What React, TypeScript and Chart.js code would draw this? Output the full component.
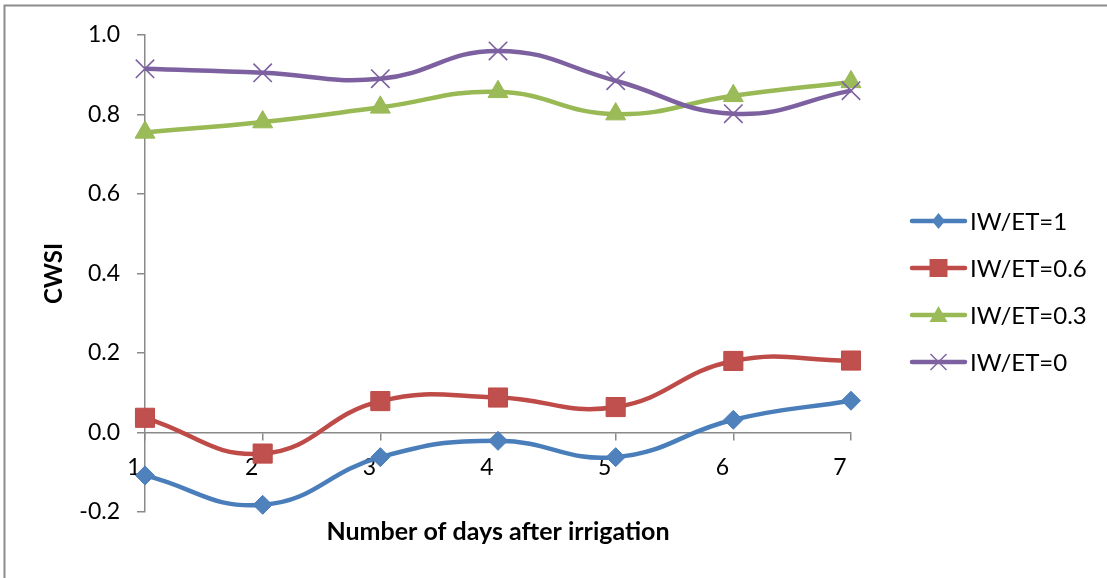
import React, { useEffect, useRef } from 'react';
import { Chart, registerables } from 'chart.js';

Chart.register(...registerables);

// ---- Data ----
const days = ['1', '2', '3', '4', '5', '6', '7'];
const iwEt1 = [-0.108, -0.182, -0.062, -0.021, -0.062, 0.032, 0.080];
const iwEt06 = [0.037, -0.053, 0.079, 0.088, 0.064, 0.180, 0.181];
const iwEt03 = [0.755, 0.781, 0.818, 0.857, 0.801, 0.847, 0.882];
const iwEt0 = [0.915, 0.905, 0.890, 0.960, 0.885, 0.802, 0.860];
const seriesNames = ['IW/ET=1', 'IW/ET=0.6', 'IW/ET=0.3', 'IW/ET=0'];
const yMin = -0.2;
const yMax = 1.0;
const yStep = 0.2;
const xTitle = 'Number of days after irrigation';
const yTitle = 'CWSI';

// ---- Styles ----
const FONT = 'Lato, "Open Sans", sans-serif';
const AXIS_GRAY = '#898989';
const colors = ['#4A7EBB', '#BE4B48', '#98B954', '#7D60A0'];
const fills = ['#4F81BD', '#C0504D', '#9BBB59', '#8064A2'];
const markerStyles = ['rectRot', 'rect', 'triangle', 'crossRot'];
const markerRadius = [9.5, 13.5, 11.5, 13];

function drawLegendMarker(ctx: CanvasRenderingContext2D, style: string, x: number, y: number, color: string) {
  ctx.save();
  ctx.fillStyle = color;
  ctx.strokeStyle = color;
  ctx.beginPath();
  if (style === 'rectRot') {
    ctx.moveTo(x, y - 8);
    ctx.lineTo(x + 6.5, y);
    ctx.lineTo(x, y + 8);
    ctx.lineTo(x - 6.5, y);
    ctx.closePath();
    ctx.fill();
  } else if (style === 'rect') {
    ctx.rect(x - 9, y - 9, 18, 18);
    ctx.fill();
  } else if (style === 'triangle') {
    ctx.moveTo(x, y - 9);
    ctx.lineTo(x + 9, y + 7);
    ctx.lineTo(x - 9, y + 7);
    ctx.closePath();
    ctx.fill();
  } else {
    ctx.lineWidth = 1.5;
    ctx.moveTo(x - 8, y - 8);
    ctx.lineTo(x + 8, y + 8);
    ctx.moveTo(x + 8, y - 8);
    ctx.lineTo(x - 8, y + 8);
    ctx.stroke();
  }
  ctx.restore();
}

const frameAndLegend = {
  id: 'frameAndLegend',
  beforeDraw(chart: any) {
    const ctx = chart.ctx as CanvasRenderingContext2D;
    ctx.save();
    ctx.fillStyle = '#ffffff';
    ctx.fillRect(0, 0, chart.width, chart.height);
    ctx.strokeStyle = '#8c8c8c';
    ctx.lineWidth = 2;
    ctx.strokeRect(4.5, 5.5, chart.width + 20, chart.height + 20);
    ctx.restore();
  },
  afterDraw(chart: any) {
    const ctx = chart.ctx as CanvasRenderingContext2D;
    const area = chart.chartArea;
    const lineX0 = area.right + 61;
    const lineX1 = lineX0 + 53;
    const textX = lineX1 + 5;
    chart.data.datasets.forEach((ds: any, i: number) => {
      const y = 221 + i * 47;
      ctx.save();
      ctx.strokeStyle = colors[i];
      ctx.lineWidth = 4.5;
      ctx.lineCap = 'round';
      ctx.beginPath();
      ctx.moveTo(lineX0, y);
      ctx.lineTo(lineX1, y);
      ctx.stroke();
      ctx.restore();
      drawLegendMarker(ctx, markerStyles[i], (lineX0 + lineX1) / 2, y, fills[i]);
      ctx.save();
      ctx.fillStyle = '#000000';
      ctx.font = `normal 24px ${FONT}`;
      ctx.textBaseline = 'middle';
      ctx.textAlign = 'left';
      ctx.fillText(ds.label, textX, y + 1);
      ctx.restore();
    });
  },
};

export default function App() {
  const canvasRef = useRef<HTMLCanvasElement | null>(null);

  useEffect(() => {
    if (!canvasRef.current) return;
    const seriesValues = [iwEt1, iwEt06, iwEt03, iwEt0];
    const chart = new Chart(canvasRef.current, {
      type: 'line',
      data: {
        labels: days,
        datasets: seriesValues.map((vals, i) => ({
          label: seriesNames[i],
          data: vals,
          borderColor: colors[i],
          backgroundColor: fills[i],
          borderWidth: 4.5,
          tension: 0.45,
          fill: false,
          clip: false as any,
          order: 3 - i,
          pointStyle: markerStyles[i] as any,
          pointRadius: markerRadius[i],
          pointBackgroundColor: fills[i],
          pointBorderColor: colors[i],
          pointBorderWidth: i === 3 ? 1.6 : 1,
        })),
      },
      options: {
        responsive: false,
        animation: false,
        events: [],
        layout: { padding: { left: 0, top: 35, right: 256, bottom: 31 } },
        plugins: {
          legend: { display: false },
          tooltip: { enabled: false },
          title: {
            display: true,
            text: xTitle,
            position: 'bottom',
            fullSize: false,
            color: '#000000',
            font: { family: FONT, size: 25, weight: 'bold' },
            padding: { top: 5, bottom: 0 },
          },
        },
        scales: {
          x: {
            type: 'category',
            position: { y: 0 } as any,
            offset: false,
            afterFit: (scale: any) => {
              scale.height = 0;
            },
            grid: {
              display: true,
              drawOnChartArea: false,
              drawTicks: true,
              tickLength: 7,
              color: AXIS_GRAY,
              lineWidth: 1.5,
            },
            border: { display: true, color: AXIS_GRAY, width: 1.5 },
            ticks: {
              color: '#000000',
              font: { family: FONT, size: 23 },
              padding: 14,
              labelOffset: -11,
              maxRotation: 0,
              autoSkip: false,
            },
          },
          y: {
            type: 'linear',
            min: yMin,
            max: yMax,
            afterFit: (scale: any) => {
              scale.width = 145;
            },
            grid: {
              display: true,
              drawOnChartArea: false,
              drawTicks: true,
              tickLength: 8,
              color: AXIS_GRAY,
              lineWidth: 1.5,
            },
            border: { display: true, color: AXIS_GRAY, width: 1.5 },
            ticks: {
              stepSize: yStep,
              color: '#000000',
              font: { family: FONT, size: 23 },
              padding: 17,
              callback: (v: any) => {
                const n = Number(v);
                return Math.abs(n) < 1e-9 ? '0.0' : n.toFixed(1);
              },
            },
            title: {
              display: true,
              text: yTitle,
              color: '#000000',
              font: { family: FONT, size: 24, weight: 'bold' },
              padding: { top: 40, bottom: 0 },
            },
          },
        },
      },
      plugins: [frameAndLegend],
    });
    return () => chart.destroy();
  }, []);

  return (
    <div style={{ position: 'absolute', left: 0, top: 0, width: 1107, height: 578, background: '#fff' }}>
      <canvas ref={canvasRef} width={1107} height={578} style={{ display: 'block' }} />
    </div>
  );
}
